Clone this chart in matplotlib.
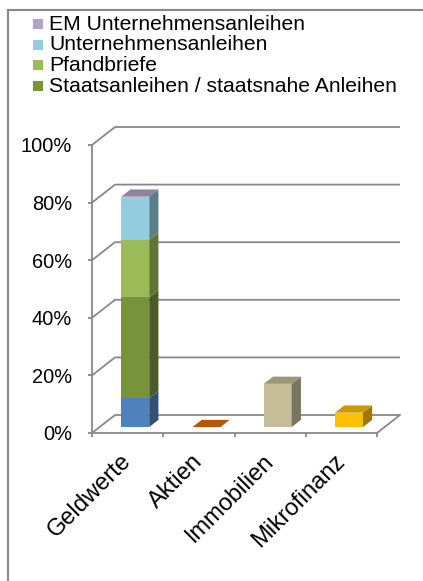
import numpy as np
import matplotlib
matplotlib.use('Agg')
import matplotlib.pyplot as plt
from matplotlib.patches import Polygon, Rectangle
from matplotlib.lines import Line2D
from matplotlib.colors import to_rgb

plt.rcParams['font.family'] = ['Liberation Sans', 'DejaVu Sans']

##################################
# Data (values in percent)
##################################
categories = ['Geldwerte', 'Aktien', 'Immobilien', 'Mikrofinanz']

# stacked segments of "Geldwerte", bottom to top
geld_segments = ['Geldmarkt', 'Staatsanleihen / staatsnahe Anleihen', 'Pfandbriefe',
                 'Unternehmensanleihen', 'EM Unternehmensanleihen']
geld_values = [10, 35, 20, 15, 0]
geld_colors = ['#4F81BD', '#77933C', '#9BBB59', '#93CDDD', '#B3A2C7']

# single bars for the other categories
other_values = [0, 15, 5]
other_colors = ['#E46C0A', '#C4BD97', '#FFC000']

legend_labels = ['EM Unternehmensanleihen', 'Unternehmensanleihen', 'Pfandbriefe',
                 'Staatsanleihen / staatsnahe Anleihen']
legend_colors = ['#B3A2C7', '#93CDDD', '#9BBB59', '#77933C']

yticks = [0, 20, 40, 60, 80, 100]

##################################
# Figure / axes (front plane of the 3d box)
##################################
W, H = 423, 581
fig = plt.figure(figsize=(W / 100, H / 100), dpi=100)
ax = fig.add_axes([92 / W, 148 / H, 285 / W, 288 / H])
ax.set_xlim(0, 4)
ax.set_ylim(0, 100)

grid_c = '#888888'
DX = 23 / 71.25   # depth offset in x data units
DY = 18 / 2.88    # depth offset in y data units

# back wall gridlines + left wall diagonals
for y in yticks:
    ax.plot([0, DX, 4 + DX], [y, y + DY, y + DY], color=grid_c, lw=1.3,
            clip_on=False, zorder=1, solid_capstyle='butt')
# floor right edge
ax.plot([4, 4 + DX], [0, DY], color=grid_c, lw=1.3, clip_on=False, zorder=1)


def shade(c, f):
    r, g, b = to_rgb(c)
    return (r * f, g * f, b * f)


def bar3d(xc, y0, y1, color, top=True, w=0.393, d0=0.33, bd=0.40):
    x0 = xc - w / 2 + d0 * DX
    x1 = x0 + w
    b0 = y0 + d0 * DY
    b1 = y1 + d0 * DY
    ox, oy = bd * DX, bd * DY
    if y1 > y0:
        ax.add_patch(Rectangle((x0, b0), w, b1 - b0, facecolor=color,
                               edgecolor='none', zorder=3, clip_on=False))
        ax.add_patch(Polygon([(x1, b0), (x1 + ox, b0 + oy), (x1 + ox, b1 + oy), (x1, b1)],
                             facecolor=shade(color, 0.62), edgecolor='none', zorder=3,
                             clip_on=False))
    if top:
        ax.add_patch(Polygon([(x0, b1), (x1, b1), (x1 + ox, b1 + oy), (x0 + ox, b1 + oy)],
                             facecolor=shade(color, 0.8), edgecolor='none', zorder=4,
                             clip_on=False))


# stacked Geldwerte bar
bottoms = np.concatenate([[0], np.cumsum(geld_values)[:-1]])
for i, (v, b, c) in enumerate(zip(geld_values, bottoms, geld_colors)):
    bar3d(0.5, b, b + v, c, top=(i == len(geld_values) - 1))

# other bars
for i, (v, c) in enumerate(zip(other_values, other_colors)):
    bar3d(1.5 + i, 0, v, c)

##################################
# Axes styling
##################################
for s in ['top', 'right']:
    ax.spines[s].set_visible(False)
for s in ['left', 'bottom']:
    ax.spines[s].set_color(grid_c)
    ax.spines[s].set_linewidth(1.3)
    ax.spines[s].set_zorder(2)

ax.set_yticks(yticks)
ax.set_yticklabels([f'{t}%' for t in yticks], fontsize=14.4)
ax.tick_params(axis='y', length=3, width=1.3, color=grid_c, pad=11.5)

ax.set_xticks([0, 1, 2, 3, 4])
ax.set_xticklabels([])
ax.tick_params(axis='x', which='major', length=3, width=1.3, color=grid_c)
ax.set_xticks([0.5, 1.5, 2.5, 3.5], minor=True)
ax.set_xticklabels(categories, minor=True, fontsize=17, rotation=45,
                   ha='right', va='center', rotation_mode='anchor')
ax.tick_params(axis='x', which='minor', length=0, pad=18)

##################################
# Legend (drawn manually, tight rows)
##################################
for i, (lab, c) in enumerate(zip(legend_labels, legend_colors)):
    yc = 24 + i * 20.7
    fig.add_artist(Rectangle((33 / W, 1 - (yc + 5) / H), 10 / W, 10 / H,
                             transform=fig.transFigure, facecolor=c, edgecolor='none'))
    fig.text(49 / W, 1 - (yc + 5.5) / H, lab, fontsize=15.2, va='baseline', ha='left')

# outer frame (top and left only)
fig.add_artist(Line2D([8 / W, 1], [1 - 10 / H, 1 - 10 / H], transform=fig.transFigure,
                      color=grid_c, lw=1.5))
fig.add_artist(Line2D([8 / W, 8 / W], [0, 1 - 10 / H], transform=fig.transFigure,
                      color=grid_c, lw=1.5))

plt.savefig('out.png', dpi=100)
